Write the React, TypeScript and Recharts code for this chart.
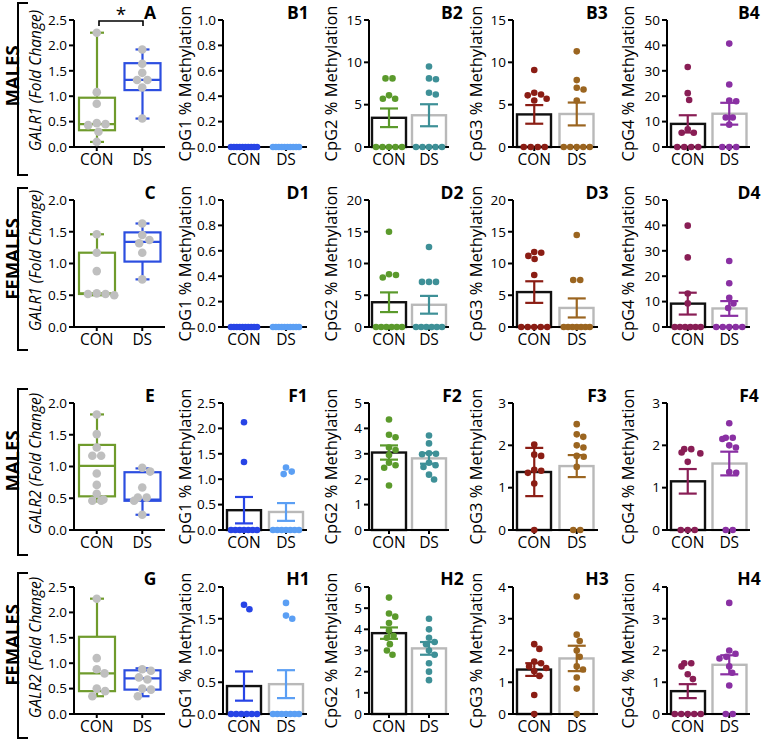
import React from 'react';
import { ComposedChart, Bar, Scatter, XAxis, YAxis, ErrorBar } from 'recharts';

const FONT = "'Open Sans', 'DejaVu Sans', sans-serif";
const GROUPS = ['CON', 'DS'];

// ---------- Box plot panels (points, and [min, q1, median, q3, max]) ----------
const ptsA_CON = [2.25, 1.08, 0.85, 0.47, 0.45, 0.43, 0.3, 0.1];
const ptsA_DS = [1.92, 1.64, 1.46, 1.32, 1.32, 1.17, 0.56];
const boxA_CON = [0.1, 0.33, 0.45, 0.97, 2.25];
const boxA_DS = [0.56, 1.12, 1.32, 1.65, 1.92];

const ptsC_CON = [1.46, 1.17, 0.88, 0.53, 0.52, 0.52, 0.5];
const ptsC_DS = [1.63, 1.45, 1.37, 1.32, 1.17, 0.75];
const boxC_CON = [0.5, 0.52, 0.53, 1.17, 1.46];
const boxC_DS = [0.75, 1.03, 1.34, 1.49, 1.63];

const ptsE_CON = [1.82, 1.51, 1.3, 1.17, 1.17, 0.89, 0.71, 0.57, 0.48, 0.46, 0.46];
const ptsE_DS = [0.98, 0.92, 0.67, 0.51, 0.51, 0.46, 0.24];
const boxE_CON = [0.45, 0.53, 1.01, 1.34, 1.82];
const boxE_DS = [0.24, 0.46, 0.48, 0.91, 0.97];

const ptsG_CON = [2.27, 1.1, 0.88, 0.8, 0.5, 0.45, 0.35];
const ptsG_DS = [0.88, 0.85, 0.72, 0.68, 0.5, 0.48, 0.35];
const boxG_CON = [0.35, 0.45, 0.8, 1.52, 2.27];
const boxG_DS = [0.35, 0.48, 0.7, 0.86, 0.9];

// ---------- CpG methylation panels (points, mean, SEM) ----------
const ptsB1_CON = [0, 0, 0, 0, 0, 0, 0, 0, 0, 0];
const ptsB1_DS = [0, 0, 0, 0, 0, 0, 0, 0, 0, 0];
const meanB1 = [0, 0];
const semB1 = [0, 0];

const ptsB2_CON = [8.1, 8.1, 6.1, 5.7, 5.7, 0, 0, 0, 0, 0];
const ptsB2_DS = [9.5, 8.1, 8.0, 6.4, 6.2, 0, 0, 0, 0, 0];
const meanB2 = [3.45, 3.75];
const semB2 = [1.1, 1.3];

const ptsB3_CON = [9.1, 6.4, 6.2, 6.1, 5.7, 5.5, 0, 0, 0, 0];
const ptsB3_DS = [11.3, 7.9, 7.0, 6.8, 5.5, 0, 0, 0, 0, 0];
const meanB3 = [3.85, 3.9];
const semB3 = [1.1, 1.35];

const ptsB4_CON = [31.5, 21.2, 18.5, 7.0, 5.6, 5.6, 0, 0, 0, 0];
const ptsB4_DS = [40.7, 24.6, 18.3, 18.0, 11.6, 11.6, 8.8, 0, 0, 0];
const meanB4 = [9.1, 13.1];
const semB4 = [3.4, 4.3];

const ptsD1_CON = [0, 0, 0, 0, 0, 0, 0, 0, 0, 0];
const ptsD1_DS = [0, 0, 0, 0, 0, 0, 0, 0, 0, 0];
const meanD1 = [0, 0];
const semD1 = [0, 0];

const ptsD2_CON = [15.0, 8.3, 8.2, 7.8, 0, 0, 0, 0, 0, 0];
const ptsD2_DS = [12.6, 7.1, 7.1, 7.1, 0, 0, 0, 0, 0, 0];
const meanD2 = [3.9, 3.5];
const semD2 = [1.55, 1.4];

const ptsD3_CON = [11.8, 11.7, 11.2, 10.7, 8.2, 0, 0, 0, 0, 0];
const ptsD3_DS = [14.5, 7.4, 7.4, 0, 0, 0, 0, 0, 0, 0];
const meanD3 = [5.5, 3.0];
const semD3 = [1.7, 1.5];

const ptsD4_CON = [39.9, 27.4, 13.2, 9.3, 0, 0, 0, 0, 0, 0];
const ptsD4_DS = [26.0, 17.2, 11.5, 9.3, 7.5, 0, 0, 0, 0, 0];
const meanD4 = [9.2, 7.3];
const semD4 = [4.3, 2.9];

const ptsF1_CON = [2.12, 1.34, 0, 0, 0, 0, 0, 0, 0];
const ptsF1_DS = [1.23, 1.15, 1.1, 0, 0, 0, 0, 0, 0, 0];
const meanF1 = [0.39, 0.355];
const semF1 = [0.26, 0.175];

const ptsF2_CON = [4.35, 3.75, 3.65, 3.25, 3.15, 2.95, 2.65, 2.55, 2.45, 1.75];
const ptsF2_DS = [3.72, 3.41, 3.02, 3.0, 2.98, 2.65, 2.55, 2.48, 2.18, 1.99];
const meanF2 = [3.05, 2.82];
const semF2 = [0.28, 0.21];

const ptsF3_CON = [2.02, 1.78, 1.75, 1.42, 1.4, 1.35, 1.1, 0];
const ptsF3_DS = [2.5, 2.26, 2.2, 2.0, 1.95, 1.75, 1.73, 1.49, 0, 0];
const meanF3 = [1.37, 1.51];
const semF3 = [0.57, 0.26];

const ptsF4_CON = [1.91, 1.91, 1.83, 1.81, 1.61, 0, 0, 0];
const ptsF4_DS = [2.52, 2.18, 2.18, 2.15, 2.0, 1.95, 1.37, 1.35, 0, 0];
const meanF4 = [1.15, 1.57];
const semF4 = [0.29, 0.28];

const ptsH1_CON = [1.72, 1.65, 0, 0, 0, 0, 0, 0];
const ptsH1_DS = [1.75, 1.55, 1.5, 0, 0, 0, 0, 0, 0, 0];
const meanH1 = [0.44, 0.47];
const semH1 = [0.23, 0.22];

const ptsH2_CON = [5.5, 4.75, 4.6, 4.3, 3.95, 3.7, 3.6, 3.3, 3.0, 2.8];
const ptsH2_DS = [4.5, 4.0, 3.6, 3.4, 3.3, 3.0, 2.8, 2.4, 2.0, 1.6];
const meanH2 = [3.82, 3.1];
const semH2 = [0.27, 0.3];

const ptsH3_CON = [2.2, 2.05, 1.65, 1.6, 1.5, 1.45, 1.35, 1.2, 0.6, 0];
const ptsH3_DS = [3.7, 2.5, 2.3, 2.0, 1.8, 1.5, 1.4, 1.15, 0.8, 0];
const meanH3 = [1.4, 1.75];
const semH3 = [0.2, 0.4];

const ptsH4_CON = [1.6, 1.6, 1.5, 1.25, 1.1, 0, 0, 0, 0, 0];
const ptsH4_DS = [3.5, 2.0, 1.9, 1.8, 1.75, 1.5, 1.3, 0.9, 0, 0];
const meanH4 = [0.72, 1.55];
const semH4 = [0.22, 0.3];

// ---------- Tick lists ----------
const T_25 = [0, 0.5, 1, 1.5, 2, 2.5];
const T_20 = [0, 0.5, 1, 1.5, 2];
const T_1 = [0, 0.2, 0.4, 0.6, 0.8, 1];
const T_15 = [0, 5, 10, 15];
const T_20i = [0, 5, 10, 15, 20];
const T_50 = [0, 10, 20, 30, 40, 50];
const T_5 = [0, 1, 2, 3, 4, 5];
const T_3 = [0, 1, 2, 3];
const T_4 = [0, 1, 2, 3, 4];
const T_6 = [0, 1, 2, 3, 4, 5, 6];

// ---------- Colours ----------
const BOX_COLORS = ['#6f9b2c', '#2c4ee0'];
const CPG_COLORS = [
  ['#2744e6', '#5b9ff4'],
  ['#5b9a2c', '#3e9097'],
  ['#8b1d14', '#9b6520'],
  ['#891e55', '#8a30a3'],
];
const BAR_STROKE = ['#111111', '#b9b9b9'];
const DOT_GRAY = '#bfbfbf';

// ---------- Layout ----------
const COL_X = [74, 223, 369, 513, 667];
const COL_W = [91, 84, 80, 85, 83];
const ROW_TOP = [20, 200, 403, 587];
const PLOT_H = 127;
const Y_AXIS_W = 46;
const TOP_PAD = 10;
const X_AXIS_H = 30;
const RIGHT_PAD = 6;

const boxPanels = [
  { row: 0, letter: 'A', gene: 'GALR1', max: 2.5, ticks: T_25, con: ptsA_CON, ds: ptsA_DS, boxCon: boxA_CON, boxDs: boxA_DS },
  { row: 1, letter: 'C', gene: 'GALR1', max: 2.0, ticks: T_20, con: ptsC_CON, ds: ptsC_DS, boxCon: boxC_CON, boxDs: boxC_DS },
  { row: 2, letter: 'E', gene: 'GALR2', max: 2.0, ticks: T_20, con: ptsE_CON, ds: ptsE_DS, boxCon: boxE_CON, boxDs: boxE_DS },
  { row: 3, letter: 'G', gene: 'GALR2', max: 2.5, ticks: T_25, con: ptsG_CON, ds: ptsG_DS, boxCon: boxG_CON, boxDs: boxG_DS },
];

const cpgPanels = [
  { row: 0, col: 1, letter: 'B1', max: 1, ticks: T_1, dec: 1, con: ptsB1_CON, ds: ptsB1_DS, mean: meanB1, sem: semB1 },
  { row: 0, col: 2, letter: 'B2', max: 15, ticks: T_15, dec: 0, con: ptsB2_CON, ds: ptsB2_DS, mean: meanB2, sem: semB2 },
  { row: 0, col: 3, letter: 'B3', max: 15, ticks: T_15, dec: 0, con: ptsB3_CON, ds: ptsB3_DS, mean: meanB3, sem: semB3 },
  { row: 0, col: 4, letter: 'B4', max: 50, ticks: T_50, dec: 0, con: ptsB4_CON, ds: ptsB4_DS, mean: meanB4, sem: semB4 },
  { row: 1, col: 1, letter: 'D1', max: 1, ticks: T_1, dec: 1, con: ptsD1_CON, ds: ptsD1_DS, mean: meanD1, sem: semD1 },
  { row: 1, col: 2, letter: 'D2', max: 20, ticks: T_20i, dec: 0, con: ptsD2_CON, ds: ptsD2_DS, mean: meanD2, sem: semD2 },
  { row: 1, col: 3, letter: 'D3', max: 20, ticks: T_20i, dec: 0, con: ptsD3_CON, ds: ptsD3_DS, mean: meanD3, sem: semD3 },
  { row: 1, col: 4, letter: 'D4', max: 50, ticks: T_50, dec: 0, con: ptsD4_CON, ds: ptsD4_DS, mean: meanD4, sem: semD4 },
  { row: 2, col: 1, letter: 'F1', max: 2.5, ticks: T_25, dec: 1, con: ptsF1_CON, ds: ptsF1_DS, mean: meanF1, sem: semF1 },
  { row: 2, col: 2, letter: 'F2', max: 5, ticks: T_5, dec: 0, con: ptsF2_CON, ds: ptsF2_DS, mean: meanF2, sem: semF2 },
  { row: 2, col: 3, letter: 'F3', max: 3, ticks: T_3, dec: 0, con: ptsF3_CON, ds: ptsF3_DS, mean: meanF3, sem: semF3 },
  { row: 2, col: 4, letter: 'F4', max: 3, ticks: T_3, dec: 0, con: ptsF4_CON, ds: ptsF4_DS, mean: meanF4, sem: semF4 },
  { row: 3, col: 1, letter: 'H1', max: 2, ticks: T_20, dec: 1, con: ptsH1_CON, ds: ptsH1_DS, mean: meanH1, sem: semH1 },
  { row: 3, col: 2, letter: 'H2', max: 6, ticks: T_6, dec: 0, con: ptsH2_CON, ds: ptsH2_DS, mean: meanH2, sem: semH2 },
  { row: 3, col: 3, letter: 'H3', max: 4, ticks: T_4, dec: 0, con: ptsH3_CON, ds: ptsH3_DS, mean: meanH3, sem: semH3 },
  { row: 3, col: 4, letter: 'H4', max: 4, ticks: T_4, dec: 0, con: ptsH4_CON, ds: ptsH4_DS, mean: meanH4, sem: semH4 },
];

// deterministic beeswarm (pixel offsets) computed from the values
function swarm(values: number[], ppu: number, d: number, maxSpan: number): number[] {
  const n = values.length;
  const order = values.map((_, i) => i).sort((a, b) => values[b] - values[a]);
  const placed: { x: number; y: number }[] = [];
  const out: number[] = new Array(n).fill(0);
  for (const i of order) {
    const y = values[i] * ppu;
    const cands: number[] = [0];
    for (const p of placed) {
      const dy = Math.abs(p.y - y);
      if (dy < d) {
        const w = Math.sqrt(d * d - dy * dy);
        cands.push(p.x + w, p.x - w);
      }
    }
    cands.sort((a, b) => Math.abs(a) - Math.abs(b) || b - a);
    let x = cands[cands.length - 1];
    for (const c of cands) {
      if (placed.every((p) => (p.x - c) ** 2 + (p.y - y) ** 2 >= d * d - 0.5)) {
        x = c;
        break;
      }
    }
    placed.push({ x, y });
    out[i] = x;
  }
  const keys = Array.from(new Set(values));
  for (const k of keys) {
    const ids = values.map((v, i) => (v === k ? i : -1)).filter((i) => i >= 0);
    if (ids.length < 2) continue;
    const xs = ids.map((i) => out[i]);
    const lo = Math.min(...xs);
    const hi = Math.max(...xs);
    const mid = (lo + hi) / 2;
    const span = hi - lo;
    const f = span > maxSpan ? maxSpan / span : 1;
    ids.forEach((i) => {
      out[i] = (out[i] - mid) * f;
    });
  }
  return out;
}

const axisLine = { stroke: '#000', strokeWidth: 2 };
const tickLine = { stroke: '#000', strokeWidth: 2 };
const xTick = { fontSize: 15.5, fill: '#000', fontFamily: FONT };
const yTick = { fontSize: 13.5, fill: '#000', fontFamily: FONT };

function dotShape(color: string, r: number) {
  return (p: any) => {
    const cx = p.cx ?? p.x + (p.width || 0) / 2;
    const cy = p.cy ?? p.y + (p.height || 0) / 2;
    if (cx == null || cy == null || isNaN(cx) || isNaN(cy)) return <g />;
    return <circle cx={cx + (p.payload?.dx || 0)} cy={cy} r={r} fill={color} />;
  };
}

function BoxPanel({ cfg }: { cfg: any }) {
  const col = 0;
  const w = Y_AXIS_W + COL_W[col] + RIGHT_PAD;
  const h = TOP_PAD + PLOT_H + X_AXIS_H;
  const ppu = PLOT_H / cfg.max;
  const stats = [cfg.boxCon, cfg.boxDs];
  const data = GROUPS.map((g, i) => ({
    group: g,
    min: stats[i][0],
    q1: stats[i][1],
    med: stats[i][2],
    q3: stats[i][3],
    max: stats[i][4],
  }));
  const mk = (vals: number[], g: string) => {
    const dx = swarm(vals, ppu, 8.8, 30);
    return vals.map((v, i) => ({ group: g, value: v, dx: dx[i] }));
  };
  const conPts = mk(cfg.con, 'CON');
  const dsPts = mk(cfg.ds, 'DS');
  const boxShape = (p: any) => {
    const { x, y, width, height, payload } = p;
    const color = payload.group === 'CON' ? BOX_COLORS[0] : BOX_COLORS[1];
    const top = Math.min(y, y + height);
    const hh = Math.abs(height);
    const k = hh / (payload.max - payload.min);
    const Y = (v: number) => top + (payload.max - v) * k;
    const cx = x + width / 2;
    return (
      <g stroke={color} strokeWidth={2.2} fill="none">
        <line x1={cx} x2={cx} y1={Y(payload.max)} y2={Y(payload.q3)} />
        <line x1={cx} x2={cx} y1={Y(payload.q1)} y2={Y(payload.min)} />
        <line x1={cx - 7} x2={cx + 7} y1={Y(payload.max)} y2={Y(payload.max)} />
        <line x1={cx - 7} x2={cx + 7} y1={Y(payload.min)} y2={Y(payload.min)} />
        <rect x={x} y={Y(payload.q3)} width={width} height={Y(payload.q1) - Y(payload.q3)} />
        <line x1={x} x2={x + width} y1={Y(payload.med)} y2={Y(payload.med)} />
      </g>
    );
  };
  return (
    <div style={{ position: 'absolute', left: COL_X[col] - Y_AXIS_W, top: ROW_TOP[cfg.row] - TOP_PAD }}>
      <ComposedChart width={w} height={h} data={data} margin={{ top: TOP_PAD, right: RIGHT_PAD, left: 0, bottom: 0 }}>
        <XAxis dataKey="group" type="category" allowDuplicatedCategory={false} height={X_AXIS_H}
          axisLine={axisLine} tickLine={tickLine} tickSize={4} tickMargin={3} tick={xTick} interval={0} />
        <YAxis type="number" domain={[0, cfg.max]} ticks={cfg.ticks} tickFormatter={(v: number) => v.toFixed(1)}
          width={Y_AXIS_W} axisLine={axisLine} tickLine={tickLine} tickSize={5} tickMargin={2} tick={yTick} interval={0} />
        <Bar dataKey={(d: any) => [d.min, d.max]} barSize={36} isAnimationActive={false} shape={boxShape} />
        <Scatter data={conPts} dataKey="value" isAnimationActive={false} shape={dotShape(DOT_GRAY, 4.3)} />
        <Scatter data={dsPts} dataKey="value" isAnimationActive={false} shape={dotShape(DOT_GRAY, 4.3)} />
      </ComposedChart>
    </div>
  );
}

function CpgPanel({ cfg, colors }: { cfg: any; colors: string[] }) {
  const col = cfg.col;
  const w = Y_AXIS_W + COL_W[col] + RIGHT_PAD;
  const h = TOP_PAD + PLOT_H + X_AXIS_H;
  const ppu = PLOT_H / cfg.max;
  const data = GROUPS.map((g, i) => ({ group: g, mean: cfg.mean[i], sem: cfg.sem[i] }));
  const mk = (vals: number[], g: string) => {
    const dx = swarm(vals, ppu, 7, 26);
    return vals.map((v, i) => ({ group: g, value: v, dx: dx[i] }));
  };
  const conPts = mk(cfg.con, 'CON');
  const dsPts = mk(cfg.ds, 'DS');
  const barShape = (p: any) => {
    const { x, y, width, height, payload } = p;
    if (!height || Math.abs(height) < 0.5) return <g />;
    const stroke = payload.group === 'CON' ? BAR_STROKE[0] : BAR_STROKE[1];
    const top = Math.min(y, y + height);
    return <rect x={x + 1} y={top} width={width - 2} height={Math.abs(height)} fill="#fff" stroke={stroke} strokeWidth={2.4} />;
  };
  const hasBars = cfg.mean[0] > 0 || cfg.mean[1] > 0;
  return (
    <div style={{ position: 'absolute', left: COL_X[col] - Y_AXIS_W, top: ROW_TOP[cfg.row] - TOP_PAD }}>
      <ComposedChart width={w} height={h} data={data} margin={{ top: TOP_PAD, right: RIGHT_PAD, left: 0, bottom: 0 }}>
        <XAxis dataKey="group" type="category" allowDuplicatedCategory={false} height={X_AXIS_H}
          axisLine={axisLine} tickLine={tickLine} tickSize={4} tickMargin={3} tick={xTick} interval={0} />
        <YAxis type="number" domain={[0, cfg.max]} ticks={cfg.ticks} tickFormatter={(v: number) => v.toFixed(cfg.dec)}
          width={Y_AXIS_W} axisLine={axisLine} tickLine={tickLine} tickSize={5} tickMargin={2} tick={yTick} interval={0} />
        <Bar dataKey="mean" barSize={36} isAnimationActive={false} shape={barShape} />
        <Scatter data={conPts} dataKey="value" isAnimationActive={false} shape={dotShape(colors[0], 3.3)} />
        <Scatter data={dsPts} dataKey="value" isAnimationActive={false} shape={dotShape(colors[1], 3.3)} />
        {hasBars && (
          <Scatter data={[data[0]]} dataKey="mean" isAnimationActive={false} shape={() => <g />}>
            <ErrorBar dataKey="sem" direction="y" width={9} strokeWidth={2.2} stroke={colors[0]} />
          </Scatter>
        )}
        {hasBars && (
          <Scatter data={[data[1]]} dataKey="mean" isAnimationActive={false} shape={() => <g />}>
            <ErrorBar dataKey="sem" direction="y" width={9} strokeWidth={2.2} stroke={colors[1]} />
          </Scatter>
        )}
      </ComposedChart>
    </div>
  );
}

const ROW_NAMES = ['MALES', 'FEMALES', 'MALES', 'FEMALES'];
const ROW_NAME_Y = [76, 259, 461, 645];
const BRACKETS = [[3, 175], [188, 350], [389, 555], [573, 738]];
const TITLE_X = [35, 184, 330, 475, 627];
const LETTER_X = [150, 298, 452, 597, 749];
const LETTER_Y = [12, 192, 395, 578];

export default function App() {
  const plotCenter = (r: number) => ROW_TOP[r] + PLOT_H / 2;
  return (
    <div style={{ position: 'absolute', left: 0, top: 0, width: 762, height: 741, background: '#fff', fontFamily: FONT }}>
      <svg width={762} height={741} style={{ position: 'absolute', left: 0, top: 0 }}>
        {BRACKETS.map(([a, b], i) => (
          <path key={'br' + i} d={`M 28 ${a} H 18 V ${b} H 28`} fill="none" stroke="#000" strokeWidth={2} />
        ))}
        {ROW_NAMES.map((n, i) => (
          <text key={'rn' + i} x={0} y={0} transform={`translate(11 ${ROW_NAME_Y[i]}) rotate(-90)`} textAnchor="middle"
            dominantBaseline="central" fontSize={18.5} fontWeight={700} fontFamily={FONT} fill="#000">{n}</text>
        ))}
        {boxPanels.map((p, i) => (
          <text key={'gt' + i} x={0} y={0} transform={`translate(${TITLE_X[0]} ${plotCenter(p.row) - 3}) rotate(-90)`}
            textAnchor="middle" dominantBaseline="central" fontSize={15.5} fontStyle="italic" fontFamily={FONT} fill="#000">
            {p.gene + ' (Fold Change)'}
          </text>
        ))}
        {cpgPanels.map((p, i) => (
          <text key={'ct' + i} x={0} y={0} transform={`translate(${TITLE_X[p.col]} ${plotCenter(p.row)}) rotate(-90)`}
            textAnchor="middle" dominantBaseline="central" fontSize={16.5} fontFamily={FONT} fill="#000">
            {`CpG${p.col} % Methylation`}
          </text>
        ))}
        {boxPanels.map((p, i) => (
          <text key={'bl' + i} x={LETTER_X[0]} y={LETTER_Y[p.row]} textAnchor="middle" dominantBaseline="central"
            fontSize={17.5} fontWeight={700} fontFamily={FONT} fill="#000">{p.letter}</text>
        ))}
        {cpgPanels.map((p, i) => (
          <text key={'cl' + i} x={LETTER_X[p.col]} y={LETTER_Y[p.row]} textAnchor="middle" dominantBaseline="central"
            fontSize={17.5} fontWeight={700} fontFamily={FONT} fill="#000">{p.letter}</text>
        ))}
        <path d="M 99 26 V 21 H 143 V 26" fill="none" stroke="#000" strokeWidth={1.6} />
        <text x={121} y={14} textAnchor="middle" dominantBaseline="central" fontSize={19} fontFamily={FONT} fill="#000">*</text>
      </svg>
      {boxPanels.map((p, i) => (
        <BoxPanel key={'bp' + i} cfg={p} />
      ))}
      {cpgPanels.map((p, i) => (
        <CpgPanel key={'cp' + i} cfg={p} colors={CPG_COLORS[p.col - 1]} />
      ))}
    </div>
  );
}
